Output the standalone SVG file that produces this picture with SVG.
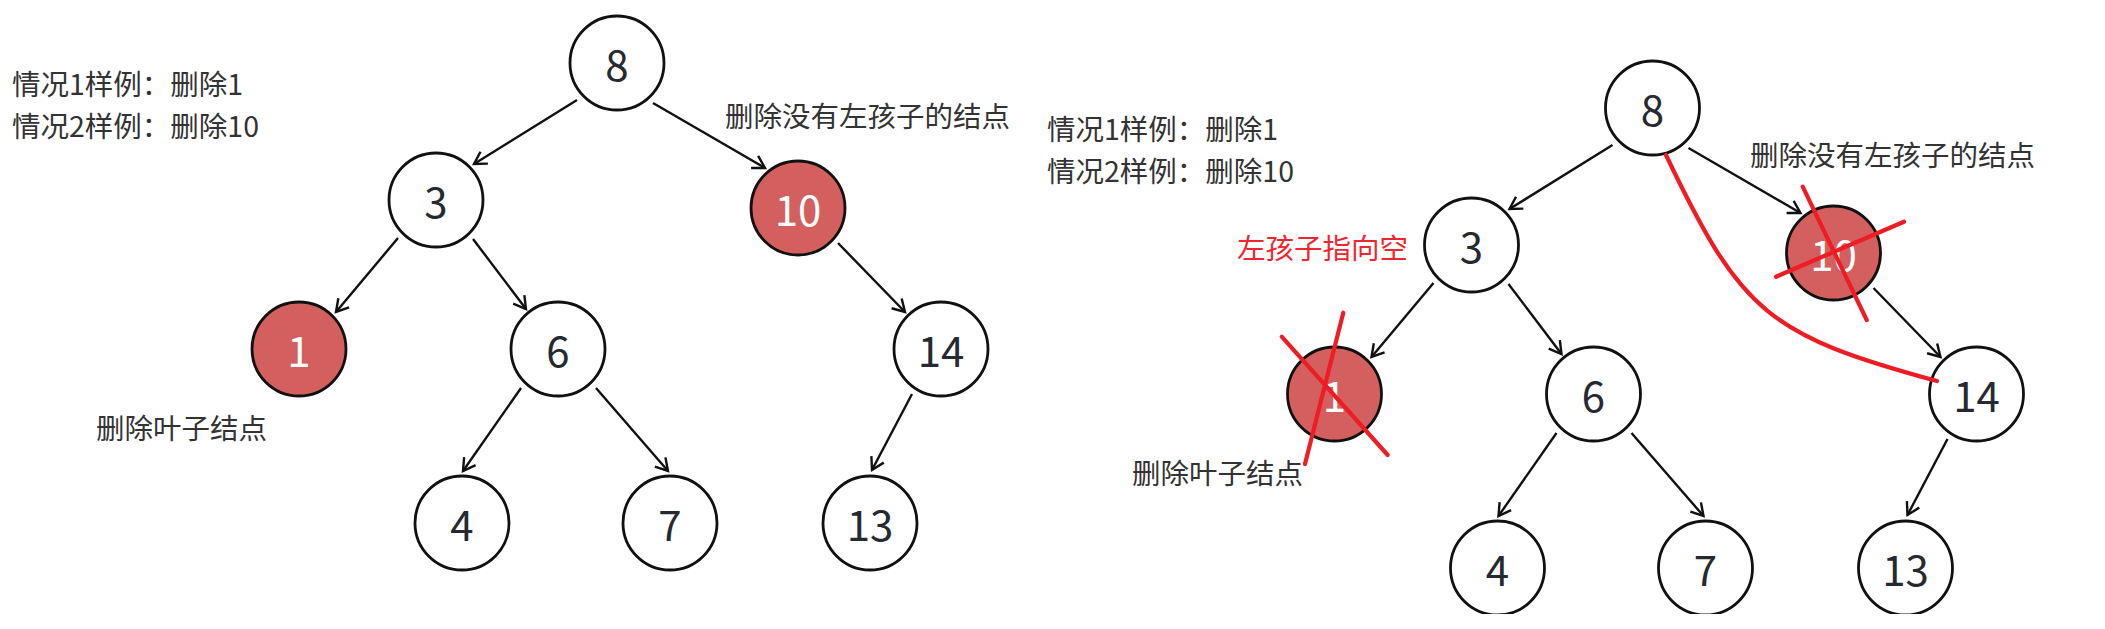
<svg xmlns="http://www.w3.org/2000/svg" width="2105" height="629" viewBox="0 0 2105 629">
<style>
  .n circle { fill: #ffffff; stroke: #111111; stroke-width: 2.8; }
  .n.del circle { fill: #d35f5f; }
  .n text { font-family: "Noto Sans CJK SC", "Noto Sans", sans-serif; font-size: 42px; fill: #262a30; text-anchor: middle; }
  .n.del text { fill: #ffffff; }
  .lbl { font-family: "Noto Sans CJK SC", "Noto Sans", sans-serif; font-size: 28.5px; fill: #333333; }
  .lbl.red { fill: #f0262f; }
  .edge line { stroke: #111111; stroke-width: 2.4; marker-end: url(#arr); }
  .mark { stroke: #ee1d23; stroke-width: 4.2; fill: none; stroke-linecap: round; }
</style>
<defs>
  <marker id="arr" markerUnits="userSpaceOnUse" markerWidth="20" markerHeight="20" refX="0" refY="0" viewBox="-14 -10 16 20" orient="auto">
    <path d="M-12,-7 L0,0 L-12,7" fill="none" stroke="#111111" stroke-width="2.4"/>
  </marker>
  <clipPath id="cut"><rect x="0" y="0" width="2105" height="614"/></clipPath>
</defs>
<rect x="0" y="0" width="2105" height="629" fill="#ffffff"/>

<!-- LEFT TREE -->
<g id="left-labels">
  <text class="lbl" x="12" y="95">情况1样例：删除1</text>
  <text class="lbl" x="12" y="137">情况2样例：删除10</text>
  <text class="lbl" x="725" y="127">删除没有左孩子的结点</text>
  <text class="lbl" x="96" y="439">删除叶子结点</text>
</g>
<g id="left-edges" class="edge">
  <line x1="577" y1="100" x2="474" y2="164"/>
  <line x1="653" y1="103" x2="765" y2="168"/>
  <line x1="398" y1="238" x2="336" y2="312"/>
  <line x1="473" y1="239" x2="526" y2="309"/>
  <line x1="838" y1="243" x2="905" y2="312"/>
  <line x1="521" y1="388" x2="463" y2="471"/>
  <line x1="596" y1="388" x2="668" y2="471"/>
  <line x1="912" y1="394" x2="872" y2="470"/>
</g>
<g id="L8" class="n"><circle cx="617" cy="63" r="47"/><text x="617" y="81">8</text></g>
<g id="L3" class="n"><circle cx="436" cy="200" r="47"/><text x="436" y="218">3</text></g>
<g id="L10" class="n del"><circle cx="798" cy="208" r="47"/><text x="798" y="226">10</text></g>
<g id="L1" class="n del"><circle cx="299" cy="349" r="47"/><text x="299" y="367">1</text></g>
<g id="L6" class="n"><circle cx="558" cy="349" r="47"/><text x="558" y="367">6</text></g>
<g id="L14" class="n"><circle cx="941" cy="349" r="47"/><text x="941" y="367">14</text></g>
<g id="L4" class="n"><circle cx="462" cy="523" r="47"/><text x="462" y="541">4</text></g>
<g id="L7" class="n"><circle cx="670" cy="523" r="47"/><text x="670" y="541">7</text></g>
<g id="L13" class="n"><circle cx="870" cy="523" r="47"/><text x="870" y="541">13</text></g>

<!-- RIGHT TREE -->
<g id="right-labels">
  <text class="lbl" x="1047" y="140">情况1样例：删除1</text>
  <text class="lbl" x="1047" y="182">情况2样例：删除10</text>
  <text class="lbl" x="1750" y="166">删除没有左孩子的结点</text>
  <text class="lbl" x="1132" y="484">删除叶子结点</text>
  <text class="lbl red" x="1237" y="259">左孩子指向空</text>
</g>
<g id="right-edges" class="edge">
  <line x1="1612.5" y1="145" x2="1509.5" y2="209"/>
  <line x1="1688.5" y1="148" x2="1800.5" y2="213"/>
  <line x1="1433.5" y1="283" x2="1371.5" y2="357"/>
  <line x1="1508.5" y1="284" x2="1561.5" y2="354"/>
  <line x1="1873.5" y1="288" x2="1940.5" y2="357"/>
  <line x1="1556.5" y1="433" x2="1498.5" y2="516"/>
  <line x1="1631.5" y1="433" x2="1703.5" y2="516"/>
  <line x1="1947.5" y1="439" x2="1907.5" y2="515"/>
</g>
<g id="R8" class="n"><circle cx="1652.5" cy="108" r="47"/><text x="1652.5" y="126">8</text></g>
<g id="R3" class="n"><circle cx="1471.5" cy="245" r="47"/><text x="1471.5" y="263">3</text></g>
<g id="R10" class="n del"><circle cx="1833.5" cy="253" r="47"/><text x="1833.5" y="271">10</text></g>
<g id="R1" class="n del"><circle cx="1334.5" cy="394" r="47"/><text x="1334.5" y="412">1</text></g>
<g id="R6" class="n"><circle cx="1593.5" cy="394" r="47"/><text x="1593.5" y="412">6</text></g>
<g id="R14" class="n"><circle cx="1976.5" cy="394" r="47"/><text x="1976.5" y="412">14</text></g>
<g clip-path="url(#cut)">
  <g id="R4" class="n"><circle cx="1497.5" cy="568" r="47"/><text x="1497.5" y="586">4</text></g>
  <g id="R7" class="n"><circle cx="1705.5" cy="568" r="47"/><text x="1705.5" y="586">7</text></g>
  <g id="R13" class="n"><circle cx="1905.5" cy="568" r="47"/><text x="1905.5" y="586">13</text></g>
</g>

<g id="red-marks">
  <line class="mark" x1="1343.3" y1="312.7" x2="1305" y2="464"/>
  <line class="mark" x1="1281.7" y1="336.7" x2="1387.7" y2="455"/>
  <line class="mark" x1="1802.7" y1="186.7" x2="1866.7" y2="320"/>
  <line class="mark" x1="1776" y1="276.7" x2="1904" y2="221.7"/>
  <path class="mark" d="M1666,155 C1741,312.5 1768,335 1937,381"/>
</g>
</svg>
